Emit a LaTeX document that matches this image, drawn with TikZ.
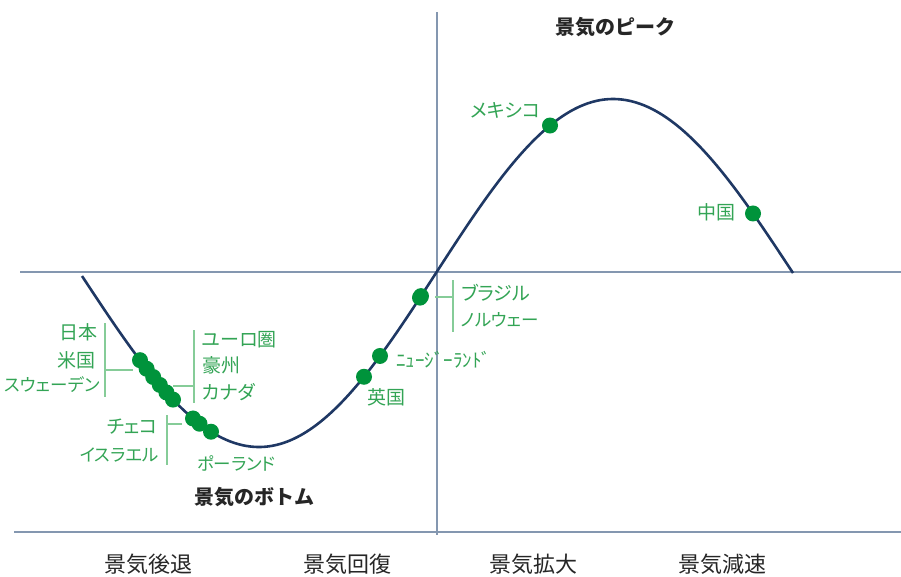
\documentclass[tikz,border=0pt]{standalone}
\usepackage{fontspec}
\newfontfamily\jp[RawFeature=+palt]{Noto Sans CJK JP}
\newfontfamily\jpn{Noto Sans CJK JP}
\definecolor{navy}{HTML}{1F3864}
\definecolor{axisgray}{HTML}{8497B0}
\definecolor{dotgreen}{HTML}{00933B}
\definecolor{lblgreen}{HTML}{33A455}
\definecolor{brkgreen}{HTML}{86CC98}
\definecolor{txtgray}{HTML}{262626}
\begin{document}
\begin{tikzpicture}[x=1pt,y=-1pt,
  declare function={
    fa(\t)=276-171*sin((\t-436)/177*90);
    fb(\t)=273+174*cos((\t-259)/354*180);
    fc(\t)=273-174*cos((\t-613)/180*90);
  },
  axisline/.style={draw=axisgray,line width=1.5pt},
  curveline/.style={draw=navy,line width=2.6pt},
  dot/.style={circle,fill=dotgreen,minimum size=16pt,inner sep=0pt},
  lbl/.style={font=\jp\fontsize{19}{21}\selectfont,text=lblgreen,inner sep=0pt},
  lblsm/.style={lbl,font=\jp\fontsize{17.5}{20}\selectfont},
  brk/.style={draw=brkgreen,line width=1.2pt},
  phase/.style={font=\jpn\fontsize{22}{24}\selectfont,text=txtgray,inner sep=0pt},
  ttl/.style={font=\jpn\bfseries\fontsize{20}{22}\selectfont,text=txtgray,inner sep=0pt}
]
\useasboundingbox (0,0) rectangle (901,576);

% axes
\coordinate (hL) at (20,272);
\coordinate (hR) at (901,272);
\coordinate (vT) at (437,12);
\coordinate (vB) at (437,535);
\coordinate (bL) at (14,532);
\coordinate (bR) at (901,532);
\draw[axisline] (hL) -- (hR);
\draw[axisline] (vT) -- (vB);
\draw[axisline] (bL) -- (bR);

% business cycle curve
\draw[curveline,line join=round]
  plot[domain=82:259,samples=80] (\x,{fa(\x)})
  -- plot[domain=259:613,samples=140] (\x,{fb(\x)})
  -- plot[domain=613:793,samples=80] (\x,{fc(\x)});

% dots
\node[dot] (d1) at (140,{fa(140)}) {};
\node[dot] (d2) at (146.6,{fa(146.6)}) {};
\node[dot] (d3) at (153.2,{fa(153.2)}) {};
\node[dot] (d4) at (159.8,{fa(159.8)}) {};
\node[dot] (d5) at (166.4,{fa(166.4)}) {};
\node[dot] (d6) at (173,{fa(173)}) {};
\node[dot] (d7) at (193,{fa(193)}) {};
\node[dot] (d8) at (199.5,{fa(199.5)}) {};
\node[dot] (d9) at (211,{fa(211)}) {};
\node[dot] (d10) at (364,{fb(364)}) {};
\node[dot] (d11) at (380,{fb(380)}) {};
\node[dot] (d12) at (420,{fb(420)}) {};
\node[dot] (d13) at (421,{fb(421)}) {};
\node[dot] (d14) at (550,{fb(550)}) {};
\node[dot] (d15) at (753,{fc(753)}) {};

% brackets
\coordinate (b1t) at (105,323); \coordinate (b1b) at (105,397);
\coordinate (b1m) at (105,370); \coordinate (b1e) at (133,370);
\draw[brk] (b1t) -- (b1b); \draw[brk] (b1m) -- (b1e);
\coordinate (b2t) at (194,330); \coordinate (b2b) at (194,403);
\coordinate (b2m) at (194,386); \coordinate (b2e) at (173,386);
\draw[brk] (b2t) -- (b2b); \draw[brk] (b2m) -- (b2e);
\coordinate (b3t) at (167,415); \coordinate (b3b) at (167,465);
\coordinate (b3m) at (167,424); \coordinate (b3e) at (182,424);
\draw[brk] (b3t) -- (b3b); \draw[brk] (b3m) -- (b3e);
\coordinate (b4t) at (453,280); \coordinate (b4b) at (453,332);
\coordinate (b4m) at (453,297); \coordinate (b4e) at (435,297);
\draw[brk] (b4t) -- (b4b); \draw[brk] (b4m) -- (b4e);

% country labels
\node[lbl,anchor=east] (tJP) at (98,332) {日本};
\node[lbl,anchor=east] (tUS) at (96,360) {米国};
\node[lblsm,anchor=east] (tSE) at (100,385) {スウェーデン};
\node[lbl,anchor=west] (tEU) at (202,340) {ユーロ圏};
\node[lbl,anchor=west] (tAU) at (202,365) {豪州};
\node[lbl,anchor=west] (tCA) at (202,392) {カナダ};
\node[lbl,anchor=east] (tCZ) at (158,427) {チェコ};
\node[lblsm,anchor=east] (tIL) at (159,455) {イスラエル};
\node[lblsm,anchor=west] (tPL) at (197,463) {ポーランド};
\node[lbl,anchor=west] (tUK) at (367,397) {英国};
\node[lbl,anchor=west] (tNZ) at (396,360) {ﾆｭｰｼﾞｰﾗﾝﾄﾞ};
\node[lbl,anchor=west] (tBR) at (461,293) {ブラジル};
\node[lblsm,anchor=west] (tNO) at (461,320) {ノルウェー};
\node[lbl,anchor=east] (tMX) at (541,110) {メキシコ};
\node[lbl,anchor=east] (tCN) at (736,212) {中国};

% titles
\node[ttl] (peak) at (615,27) {景気のピーク};
\node[ttl] (bottom) at (254,497) {景気のボトム};

% phases
\node[phase] (ph1) at (148,564) {景気後退};
\node[phase] (ph2) at (347,564) {景気回復};
\node[phase] (ph3) at (533,564) {景気拡大};
\node[phase] (ph4) at (722,564) {景気減速};
\end{tikzpicture}
\end{document}
